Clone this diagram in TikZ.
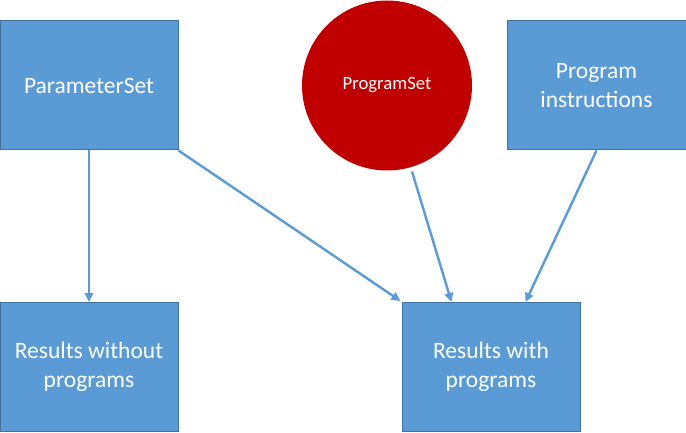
\documentclass[tikz,border=0pt]{standalone}
\usepackage{fontspec}
\setmainfont{Carlito}
\usetikzlibrary{arrows.meta,calc}
\definecolor{boxfill}{HTML}{5B9BD5}
\definecolor{boxline}{HTML}{41719C}
\definecolor{circfill}{HTML}{C00000}
\tikzset{
  box/.style={rectangle, fill=boxfill, draw=boxline, line width=1pt, minimum width=178pt, minimum height=129pt, inner sep=0pt, text=white, align=center, font=\fontsize{23.5}{28.7}\selectfont},
  circ/.style={circle, fill=circfill, draw=none, minimum size=170pt, inner sep=0pt, text=white, font=\fontsize{18.7}{22}\selectfont},
  conn/.style={draw=boxfill, line width=2.4pt, -{Triangle[length=9pt,width=8.5pt]}}
}
\begin{document}
\begin{tikzpicture}[x=1pt,y=1pt]
\useasboundingbox (0,0) rectangle (686,432);
\node[box] (ps) at (89,346.5) {ParameterSet};
\node[circ] (cs) at (387,346.5) {ProgramSet};
\node[box, minimum width=179pt] (pi) at (596.5,346.5) {Program\\instructions};
\node[box] (rwo) at (89,65) {Results without\\programs};
\node[box] (rw) at (491,65) {Results with\\programs};
\draw[conn] (ps.south) -- (rwo.north);
\draw[conn] (ps.south east) -- ($(rw.north west)+(-1,1)$);
\draw[conn] ($(cs.center)+(25,-86)$) -- ($(rw.north west)+(50,0)$);
\draw[conn] (pi.south) -- ($(rw.north west)+(124,0)$);
\end{tikzpicture}
\end{document}
